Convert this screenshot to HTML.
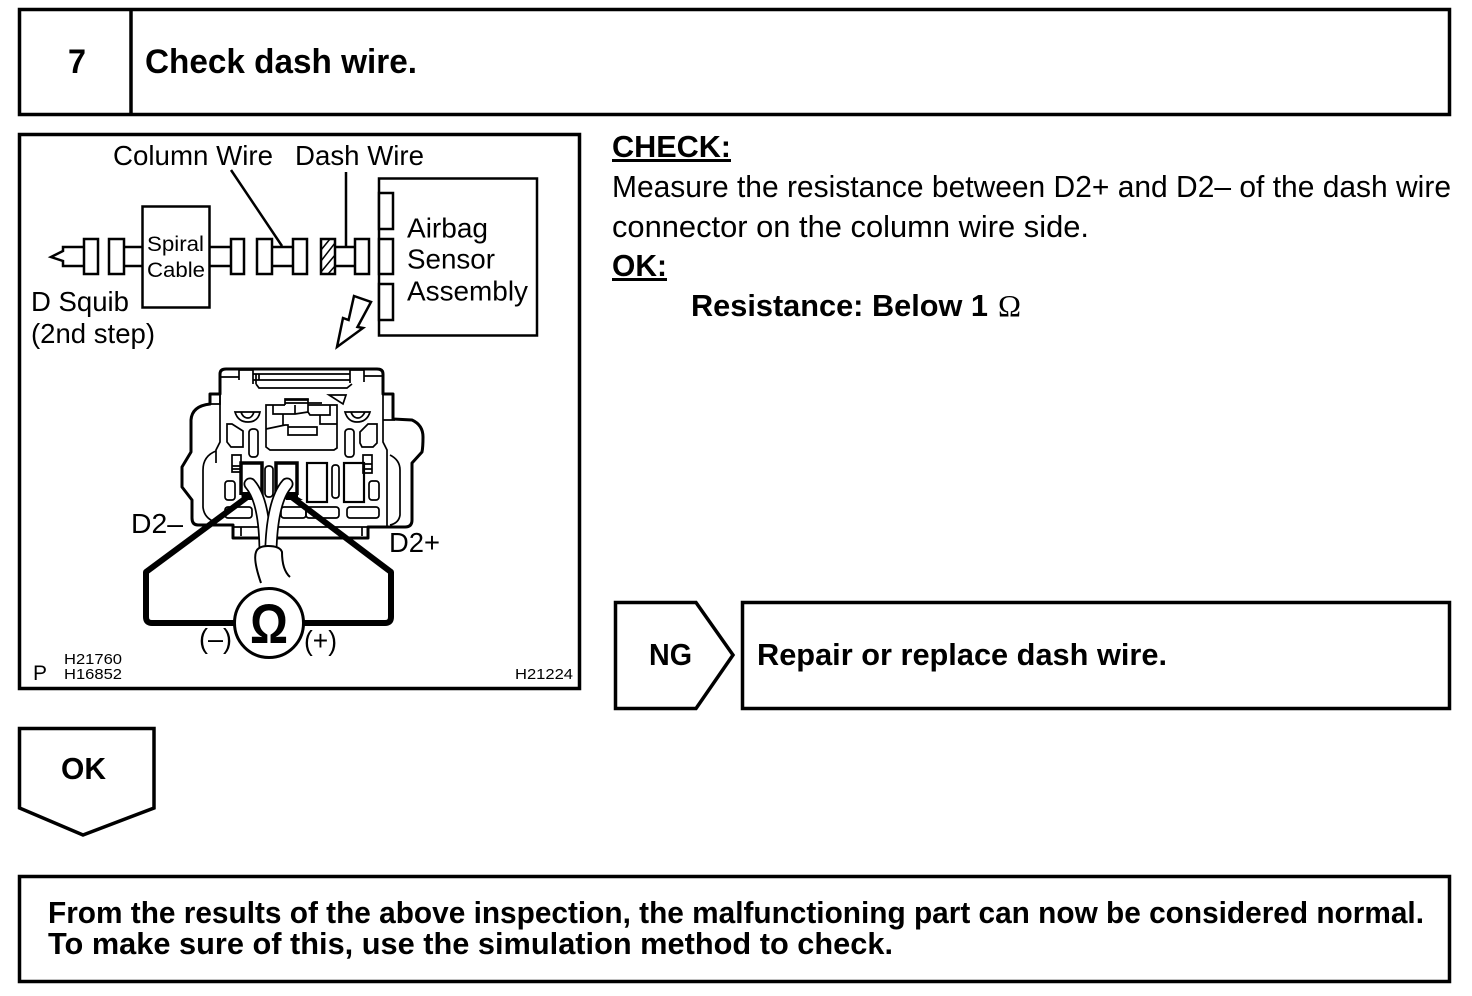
<!DOCTYPE html>
<html><head><meta charset="utf-8"><title>Check dash wire</title>
<style>
html,body{margin:0;padding:0;background:#fff}
svg{display:block}
text{font-family:"Liberation Sans",sans-serif;fill:#000}
.b{font-weight:bold}
.s{font-family:"Liberation Serif",serif}
</style></head><body>
<svg width="1472" height="996" viewBox="0 0 1472 996" xmlns="http://www.w3.org/2000/svg">
<g fill="none" stroke="#000" stroke-width="3.5">
<rect x="19.5" y="9.5" width="1430" height="105"/>
<line x1="131" y1="9" x2="131" y2="115"/>
<rect x="19.5" y="134.5" width="560" height="554"/>
<path d="M615.500 602.500H696L733 655L696 708.500H615.500Z"/>
<rect x="742.500" y="602.500" width="707" height="106"/>
<path d="M19.500 728.500H154V808L83 835L19.500 808Z"/>
<rect x="19.500" y="876.500" width="1430" height="105"/>
</g>
<text class="b" x="68" y="73" font-size="34" textLength="18" lengthAdjust="spacingAndGlyphs">7</text>
<text class="b" x="145" y="73" font-size="34" textLength="272" lengthAdjust="spacingAndGlyphs">Check dash wire.</text>
<text class="b" x="612" y="157" font-size="30.5" textLength="119" lengthAdjust="spacingAndGlyphs">CHECK:</text>
<rect x="612" y="159" width="119" height="3"/>
<text x="612" y="197" font-size="30.5" textLength="839" lengthAdjust="spacingAndGlyphs">Measure the resistance between D2+ and D2– of the dash wire</text>
<text x="612" y="237" font-size="30.5" textLength="477" lengthAdjust="spacingAndGlyphs">connector on the column wire side.</text>
<text class="b" x="612" y="276" font-size="30.5" textLength="55" lengthAdjust="spacingAndGlyphs">OK:</text>
<rect x="612" y="278" width="55" height="3"/>
<text class="b" x="691" y="316" font-size="30.5" textLength="297" lengthAdjust="spacingAndGlyphs">Resistance: Below 1</text>
<text class="s" x="998" y="316" font-size="30.5" textLength="23" lengthAdjust="spacingAndGlyphs">Ω</text>
<text class="b" x="649" y="665" font-size="30.5" textLength="43" lengthAdjust="spacingAndGlyphs">NG</text>
<text class="b" x="757" y="665" font-size="30.5" textLength="410" lengthAdjust="spacingAndGlyphs">Repair or replace dash wire.</text>
<text class="b" x="61" y="779" font-size="30.5" textLength="45" lengthAdjust="spacingAndGlyphs">OK</text>
<text class="b" x="48" y="923" font-size="30.5" textLength="1376" lengthAdjust="spacingAndGlyphs">From the results of the above inspection, the malfunctioning part can now be considered normal.</text>
<text class="b" x="48" y="954" font-size="30.5" textLength="845" lengthAdjust="spacingAndGlyphs">To make sure of this, use the simulation method to check.</text>

<!-- wiring schematic -->
<g fill="#fff" stroke="#000" stroke-width="2.5">
<path d="M84 247H63V251L51 257L63 261V266H84" fill="none"/>
<path d="M124 247H142M124 266H142M209 247H231M209 266H231M272 247H293M272 266H293M335 247H355M335 266H355" fill="none"/>
<rect x="142.500" y="206.500" width="67" height="101"/>
<rect x="84" y="239" width="14" height="35"/>
<rect x="109" y="239" width="15" height="35"/>
<rect x="231" y="239" width="13" height="35"/>
<rect x="257" y="239" width="15" height="35"/>
<rect x="293" y="239" width="14" height="35"/>
<rect x="321" y="239" width="14" height="35"/>
<path d="M321 250L330 239M321 261L335 243M321 272L335 255M328 274L335 266" fill="none" stroke-width="1.5"/>
<rect x="355" y="239" width="14" height="35"/>
<rect x="379" y="178.500" width="158" height="157"/>
<rect x="379" y="193" width="14" height="36"/>
<rect x="379" y="239" width="14" height="35"/>
<rect x="379" y="284" width="14" height="36"/>
<path d="M231 170L282 246M346 172V247" fill="none"/>
<path d="M354 296L371 302L357.500 327L363 328L337 347L343 318L348.600 320Z"/>
</g>
<text x="113" y="165" font-size="28" textLength="160" lengthAdjust="spacingAndGlyphs">Column Wire</text>
<text x="295" y="165" font-size="28" textLength="129" lengthAdjust="spacingAndGlyphs">Dash Wire</text>
<text x="147" y="251" font-size="21" textLength="57" lengthAdjust="spacingAndGlyphs">Spiral</text>
<text x="147" y="277" font-size="21" textLength="58" lengthAdjust="spacingAndGlyphs">Cable</text>
<text x="407" y="237.500" font-size="28" textLength="81" lengthAdjust="spacingAndGlyphs">Airbag</text>
<text x="407" y="268.500" font-size="28" textLength="88" lengthAdjust="spacingAndGlyphs">Sensor</text>
<text x="407" y="300.500" font-size="28" textLength="121" lengthAdjust="spacingAndGlyphs">Assembly</text>
<text x="31" y="311" font-size="28" textLength="98" lengthAdjust="spacingAndGlyphs">D Squib</text>
<text x="31" y="343" font-size="28" textLength="124" lengthAdjust="spacingAndGlyphs">(2nd step)</text>

<!-- connector: thick outer outline -->
<path d="M220 378V374Q220 369 226 369H377Q383 369 383 374V394H393V419L412 420Q423 425 423 437Q423 447 422 452L412 463V520Q412 527 405 527H368V538H233V525H198Q192 525 192 518V500L182 487V467L191 452V420Q192 406 210 404V394H220Z" fill="#fff" stroke="#000" stroke-width="3" stroke-linejoin="round"/>
<g fill="none" stroke="#000" stroke-width="1.7">
<!-- latch -->
<path d="M221 377H239V370H253V380H259V374H350V370H364V382M350 370V383M239 370V380M256 384L259 388H347L352 384M256 374V384M253 374H259M253 380V384M259 380H350M259 380V374M364 376H383"/>
<!-- thin inner frame left and right -->
<path d="M220 378V442L216 450V463M383 394V442L387 450V527M383 420H395"/>
<path d="M216 451Q203 456 203 470V507Q204 518 215 522M390 455Q400 460 400 470V515Q399 523 390 525"/>
<path d="M210 404H220V394"/>
<!-- triangle & half-moons -->
<path d="M329 395H346L343 404Z"/>
<path d="M235 412H260Q258 422 248 422Q238 422 235 412ZM241 412Q243 418 248 418Q252 418 254 412"/>
<path d="M345 412H370Q367 422 357 422Q348 422 345 412ZM351 412Q353 418 358 418Q362 418 365 412"/>
<!-- side cells -->
<path d="M227 424H232L243 431V447H231L227 442Z"/>
<rect x="249" y="429" width="9" height="28" rx="3.500"/>
<rect x="345" y="429" width="9" height="28" rx="3.500"/>
<path d="M360 432L368 424H377V443L373 447H362L360 443Z"/>
<!-- centre plug -->
<path d="M285 405V399H308V400M308 405H337V448L334 450H270L266 447V405H285"/>
<path d="M285 400H308V412L310 415H330V405M273 405V414H295V405M273 414H283V425M266 429L285 425H288V435H317V427H288M320 415V424H337M295 414L308 412"/>
<path d="M285 403H322"/>
<!-- lower cells -->
<path d="M232 455H241V472H232ZM232 466H241M232 469H241"/>
<path d="M363 455H372V473H363ZM363 464H372M363 469H372"/>
<rect x="225" y="481" width="10" height="19" rx="3"/>
<rect x="369" y="481" width="10" height="19" rx="3"/>
<rect x="265" y="466" width="8" height="31" rx="3.500"/>
<rect x="332" y="465" width="7" height="33" rx="3"/>
<rect x="225" y="507" width="27" height="11" rx="3"/>
<rect x="281" y="507" width="25" height="11" rx="3"/>
<rect x="306" y="507" width="33" height="11" rx="3"/>
<rect x="347" y="507" width="32" height="11" rx="3"/>
<path d="M241 527V536M362 527V536"/>
<path d="M233 527H368"/>
</g>
<g fill="none" stroke="#000" stroke-width="2.2">
<rect x="307" y="463" width="20" height="39"/>
<rect x="344" y="463" width="20" height="39"/>
</g>
<g fill="none" stroke="#000" stroke-width="3.500">
<path d="M241 495V463H262V495"/>
<path d="M276 495V463H297V495"/>
</g>
<path d="M241 492H256L258 500H242ZM283 492H298V497L303 500H286Z" fill="#000"/>

<!-- test probes and wires -->
<path d="M250 495L146 572V617Q146 623 152 623H236M289 495L391 572V617Q391 623 385 623H302" fill="none" stroke="#000" stroke-width="6" stroke-linejoin="round"/>
<path d="M250 484Q264 500 265 546" fill="none" stroke="#000" stroke-width="13" stroke-linecap="round"/>
<path d="M250 484Q264 500 265 546" fill="none" stroke="#fff" stroke-width="9.500" stroke-linecap="round"/>
<path d="M287 484Q273 500 271 546" fill="none" stroke="#000" stroke-width="13" stroke-linecap="round"/>
<path d="M287 484Q273 500 271 546" fill="none" stroke="#fff" stroke-width="9.500" stroke-linecap="round"/>
<path d="M261 583Q253 560 256 552Q258 546 268 546Q280 546 282 552Q282 570 290 577L261 583Z" fill="#fff"/>
<path d="M261 583Q253 560 256 552Q258 546 268 546Q280 546 282 552Q282 570 290 577" fill="none" stroke="#000" stroke-width="2"/>
<circle cx="269" cy="623" r="34.500" fill="#fff" stroke="#000" stroke-width="3"/>
<text class="b" x="250" y="643" font-size="56" textLength="38" lengthAdjust="spacingAndGlyphs">Ω</text>
<text x="131" y="533" font-size="28" textLength="52" lengthAdjust="spacingAndGlyphs">D2–</text>
<text x="389" y="552" font-size="28" textLength="51" lengthAdjust="spacingAndGlyphs">D2+</text>
<text x="199" y="648" font-size="28" textLength="33" lengthAdjust="spacingAndGlyphs">(–)</text>
<text x="304" y="650" font-size="28" textLength="33" lengthAdjust="spacingAndGlyphs">(+)</text>
<text x="33" y="680" font-size="21" textLength="14" lengthAdjust="spacingAndGlyphs">P</text>
<text x="64" y="664" font-size="15" textLength="58" lengthAdjust="spacingAndGlyphs">H21760</text>
<text x="64" y="679" font-size="15" textLength="58" lengthAdjust="spacingAndGlyphs">H16852</text>
<text x="515" y="679" font-size="15" textLength="58" lengthAdjust="spacingAndGlyphs">H21224</text>
</svg>
</body></html>
